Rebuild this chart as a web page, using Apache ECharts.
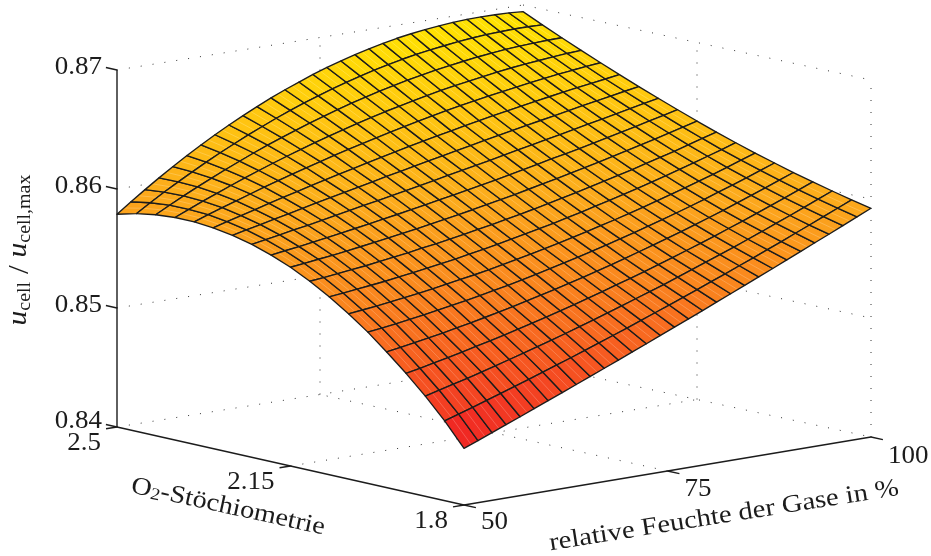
<!DOCTYPE html>
<html><head><meta charset="utf-8">
<style>html,body{margin:0;padding:0;background:#fff}#c{width:931px;height:556px}</style>
<script src="https://cdn.jsdelivr.net/npm/echarts@6/dist/echarts.min.js"></script>
</head><body><div id="c"></div>
<script>
// tick labels
const zTicks = [0.84, 0.85, 0.86, 0.87];
const zTickLabels = ['0.84', '0.85', '0.86', '0.87'];
const oxygenTicks = [2.5, 2.15, 1.8];
const oxygenTickLabels = ['2.5', '2.15', '1.8'];
const humidityTicks = [50, 75, 100];
const humidityTickLabels = ['50', '75', '100'];

// sampling of the surface
const oxygenGrid = [1.8,1.839,1.878,1.917,1.956,1.994,2.033,2.072,2.111,2.15,2.189,2.228,2.267,2.306,2.344,2.383,2.422,2.461,2.5];
const humidityGrid = [50,51.72,53.45,55.17,56.9,58.62,60.34,62.07,63.79,65.52,67.24,68.97,70.69,72.41,74.14,75.86,77.59,79.31,81.03,82.76,84.48,86.21,87.93,89.66,91.38,93.1,94.83,96.55,98.28,100];

// u_cell / u_cell,max, one row per O2 value
const row00 = [0.84476,0.84522,0.84569,0.84616,0.84663,0.84711,0.84759,0.84807,0.84855,0.84903,0.84952,0.85001,0.85050,0.85099,0.85149,0.85199,0.85249,0.85299,0.85350,0.85401,0.85452,0.85503,0.85554,0.85606,0.85658,0.85711,0.85763,0.85816,0.85869,0.85922];
const row01 = [0.84670,0.84707,0.84745,0.84783,0.84822,0.84862,0.84902,0.84942,0.84983,0.85024,0.85066,0.85109,0.85152,0.85195,0.85240,0.85284,0.85329,0.85374,0.85420,0.85467,0.85513,0.85561,0.85608,0.85657,0.85705,0.85756,0.85805,0.85856,0.85907,0.85958];
const row02 = [0.84842,0.84872,0.84903,0.84933,0.84966,0.84999,0.85032,0.85066,0.85101,0.85136,0.85172,0.85210,0.85247,0.85286,0.85326,0.85366,0.85406,0.85446,0.85489,0.85532,0.85576,0.85619,0.85663,0.85709,0.85755,0.85803,0.85850,0.85899,0.85948,0.85997];
const row03 = [0.84997,0.85020,0.85045,0.85070,0.85097,0.85125,0.85153,0.85182,0.85211,0.85242,0.85274,0.85307,0.85339,0.85374,0.85409,0.85446,0.85482,0.85519,0.85558,0.85598,0.85638,0.85678,0.85720,0.85764,0.85807,0.85852,0.85897,0.85943,0.85991,0.86038];
const row04 = [0.85140,0.85159,0.85179,0.85200,0.85221,0.85245,0.85268,0.85293,0.85319,0.85345,0.85374,0.85403,0.85432,0.85462,0.85494,0.85526,0.85560,0.85594,0.85631,0.85667,0.85704,0.85742,0.85781,0.85821,0.85862,0.85905,0.85948,0.85992,0.86037,0.86082];
const row05 = [0.85271,0.85286,0.85302,0.85320,0.85338,0.85358,0.85379,0.85400,0.85423,0.85446,0.85470,0.85496,0.85523,0.85551,0.85580,0.85609,0.85640,0.85671,0.85704,0.85738,0.85772,0.85808,0.85844,0.85881,0.85920,0.85961,0.86000,0.86042,0.86085,0.86128];
const row06 = [0.85388,0.85401,0.85415,0.85430,0.85446,0.85464,0.85482,0.85502,0.85522,0.85542,0.85564,0.85589,0.85613,0.85637,0.85664,0.85692,0.85720,0.85749,0.85780,0.85810,0.85843,0.85876,0.85910,0.85945,0.85981,0.86018,0.86056,0.86095,0.86136,0.86176];
const row07 = [0.85495,0.85507,0.85520,0.85534,0.85548,0.85565,0.85582,0.85600,0.85619,0.85638,0.85659,0.85681,0.85703,0.85727,0.85752,0.85777,0.85803,0.85830,0.85858,0.85888,0.85918,0.85949,0.85979,0.86013,0.86047,0.86081,0.86117,0.86153,0.86190,0.86228];
const row08 = [0.85589,0.85601,0.85614,0.85628,0.85642,0.85659,0.85676,0.85693,0.85712,0.85730,0.85750,0.85771,0.85793,0.85814,0.85838,0.85862,0.85887,0.85913,0.85939,0.85967,0.85995,0.86024,0.86053,0.86083,0.86115,0.86147,0.86179,0.86213,0.86248,0.86282];
const row09 = [0.85670,0.85683,0.85699,0.85713,0.85729,0.85746,0.85764,0.85782,0.85800,0.85819,0.85839,0.85860,0.85882,0.85903,0.85926,0.85950,0.85973,0.85998,0.86023,0.86049,0.86076,0.86102,0.86130,0.86158,0.86187,0.86217,0.86246,0.86278,0.86308,0.86340];
const row10 = [0.85736,0.85753,0.85769,0.85787,0.85805,0.85825,0.85844,0.85864,0.85884,0.85904,0.85925,0.85946,0.85969,0.85990,0.86013,0.86036,0.86059,0.86084,0.86108,0.86133,0.86159,0.86183,0.86208,0.86235,0.86262,0.86289,0.86316,0.86344,0.86372,0.86400];
const row11 = [0.85789,0.85810,0.85831,0.85853,0.85873,0.85896,0.85918,0.85940,0.85963,0.85984,0.86008,0.86030,0.86053,0.86076,0.86100,0.86124,0.86147,0.86170,0.86194,0.86219,0.86242,0.86266,0.86289,0.86314,0.86339,0.86363,0.86388,0.86412,0.86437,0.86461];
const row12 = [0.85829,0.85855,0.85881,0.85908,0.85933,0.85960,0.85986,0.86012,0.86037,0.86061,0.86087,0.86113,0.86137,0.86161,0.86186,0.86210,0.86234,0.86258,0.86282,0.86305,0.86328,0.86351,0.86373,0.86395,0.86418,0.86440,0.86461,0.86482,0.86504,0.86524];
const row13 = [0.85855,0.85888,0.85920,0.85952,0.85985,0.86016,0.86046,0.86077,0.86106,0.86134,0.86163,0.86191,0.86219,0.86245,0.86272,0.86298,0.86322,0.86346,0.86370,0.86393,0.86416,0.86438,0.86458,0.86479,0.86499,0.86519,0.86537,0.86555,0.86572,0.86589];
const row14 = [0.85870,0.85911,0.85951,0.85990,0.86028,0.86066,0.86103,0.86138,0.86172,0.86205,0.86238,0.86270,0.86300,0.86329,0.86358,0.86385,0.86411,0.86437,0.86462,0.86485,0.86506,0.86527,0.86546,0.86565,0.86583,0.86600,0.86616,0.86630,0.86643,0.86655];
const row15 = [0.85870,0.85920,0.85969,0.86016,0.86063,0.86108,0.86151,0.86193,0.86233,0.86271,0.86309,0.86345,0.86379,0.86412,0.86444,0.86474,0.86501,0.86527,0.86553,0.86577,0.86599,0.86618,0.86637,0.86655,0.86671,0.86685,0.86696,0.86708,0.86717,0.86724];
const row16 = [0.85857,0.85918,0.85977,0.86034,0.86089,0.86142,0.86193,0.86243,0.86290,0.86334,0.86377,0.86419,0.86457,0.86494,0.86529,0.86562,0.86592,0.86620,0.86647,0.86671,0.86694,0.86713,0.86730,0.86747,0.86760,0.86773,0.86781,0.86788,0.86793,0.86795];
const row17 = [0.85829,0.85902,0.85973,0.86040,0.86105,0.86168,0.86228,0.86285,0.86340,0.86392,0.86442,0.86489,0.86533,0.86574,0.86614,0.86650,0.86683,0.86714,0.86742,0.86768,0.86790,0.86809,0.86825,0.86841,0.86852,0.86862,0.86867,0.86871,0.86871,0.86868];
const row18 = [0.85788,0.85874,0.85957,0.86037,0.86113,0.86187,0.86257,0.86324,0.86387,0.86447,0.86504,0.86558,0.86608,0.86654,0.86699,0.86739,0.86775,0.86809,0.86839,0.86866,0.86890,0.86909,0.86925,0.86938,0.86948,0.86955,0.86957,0.86956,0.86952,0.86944];
const surfaceRows = [row00,row01,row02,row03,row04,row05,row06,row07,row08,row09,row10,row11,row12,row13,row14,row15,row16,row17,row18];

// ---- oblique view: pixel layout of the box ----
const W = 931, H = 556;
const floorFront = [464,505], floorLeft = [117,427], floorRight = [871,437], floorBack = [523,362];
const pxPerUnit = 11900;
const zMin = 0.84, zMax = 0.87, oMin = 1.8, oMax = 2.5, hMin = 50, hMax = 100;
function project(o, h, z) {
  const s = (o - oMin) / (oMax - oMin), t = (h - hMin) / (hMax - hMin);
  const mix = k => (1-s)*(1-t)*floorFront[k] + s*(1-t)*floorLeft[k] + (1-s)*t*floorRight[k] + s*t*floorBack[k];
  return [mix(0), mix(1) - (z - zMin) * pxPerUnit];
}

const INK = '#1c1c1c';
const SERIF = '"Liberation Serif", serif';

// dotted box grid
const dotted = [];
[zMin, 0.85, 0.86, zMax].forEach(z => {
  dotted.push([oMax,hMin,z, oMax,hMax,z]);
  dotted.push([oMax,hMax,z, oMin,hMax,z]);
});
dotted.push([2.15,hMin,zMin, 2.15,hMax,zMin]);
dotted.push([oMin,75,zMin, oMax,75,zMin]);
dotted.push([oMax,75,zMin, oMax,75,zMax]);
dotted.push([oMax,hMax,zMin, oMax,hMax,zMax]);
dotted.push([2.15,hMax,zMin, 2.15,hMax,zMax]);
dotted.push([oMin,hMax,zMin, oMin,hMax,zMax]);

// solid axes and ticks
const solid = [
  [oMax,hMin,zMin, oMax,hMin,zMax],
  [oMax,hMin,zMin, oMin,hMin,zMin],
  [oMin,hMin,zMin, oMin,hMax,zMin]
];
zTicks.forEach(z => solid.push([oMax,hMin,z, oMax+0.0224,hMin,z]));
oxygenTicks.forEach(o => solid.push([o,hMin,zMin, o,hMin-1.35,zMin]));
humidityTicks.forEach(h => solid.push([oMin,h,zMin, oMin-0.024,h,zMin]));

// surface cells, back to front
const cells = [];
for (let j = surfaceRows.length - 2; j >= 0; j--) {
  for (let i = 0; i < humidityGrid.length - 1; i++) {
    const mean = (surfaceRows[j][i] + surfaceRows[j][i+1] + surfaceRows[j+1][i] + surfaceRows[j+1][i+1]) / 4;
    cells.push([j, i, mean]);
  }
}

function segmentRenderer(style) {
  return function (params, api) {
    const a = project(api.value(0), api.value(1), api.value(2));
    const b = project(api.value(3), api.value(4), api.value(5));
    const p = api.coord(a), q = api.coord(b);
    return { type:'line', silent:true, shape:{x1:p[0],y1:p[1],x2:q[0],y2:q[1]}, style };
  };
}

function renderCell(params, api) {
  const j = api.value(0), i = api.value(1);
  const pt = (jj, ii) => api.coord(project(oxygenGrid[jj], humidityGrid[ii], surfaceRows[jj][ii]));
  const a = pt(j,i), b = pt(j,i+1), c = pt(j+1,i+1), d = pt(j+1,i);
  const m1 = [(a[0]+b[0])/2,(a[1]+b[1])/2], m2 = [(d[0]+c[0])/2,(d[1]+c[1])/2];
  return { type:'group', silent:true, children:[
    { type:'polygon', shape:{points:[a,b,c,d]}, style:{fill:api.visual('color'), stroke:null} },
    { type:'line', shape:{x1:m1[0],y1:m1[1],x2:m2[0],y2:m2[1]}, style:{stroke:'rgba(255,255,255,0.3)', lineWidth:0.7} },
    { type:'polygon', shape:{points:[a,b,c,d]}, style:{fill:null, stroke:INK, lineWidth:1.35, lineJoin:'round'} }
  ]};
}

// tick labels: [text, anchor o, h, z, dx, dy, align]
const tickLabelRows = [];
zTicks.forEach((z,k) => tickLabelRows.push([zTickLabels[k], oMax, hMin, z, -15, k===0?-6:-3, 'right']));
oxygenTicks.forEach((o,k) => tickLabelRows.push([oxygenTickLabels[k], o, hMin, zMin, -16, 16, 'right']));
humidityTicks.forEach((h,k) => tickLabelRows.push([humidityTickLabels[k], oMin, h, zMin, 17, 17+k, 'left']));

function renderTickLabel(params, api) {
  const r = tickLabelRows[api.value(0)];
  const p = api.coord(project(r[1], r[2], r[3]));
  return { type:'text', silent:true, x:p[0]+r[4], y:p[1]+r[5], scaleX:1.08,
    style:{ text:r[0], fontFamily:SERIF, fontSize:25, fill:INK, align:r[6], verticalAlign:'middle' } };
}

const axisTitles = [
  { text:'{m|u}{s|cell}{n| / }{m|u}{s|cell,max}', x:20, y:250, rotation:Math.PI/2, scaleX:1.05 },
  { text:'O{b|2}-Stöchiometrie', x:228, y:507, rotation:-12.3*Math.PI/180, scaleX:1.13 },
  { text:'relative Feuchte der Gase in %', x:724, y:516, rotation:9*Math.PI/180, scaleX:1.15 }
];
const titleRich = {
  m:{fontFamily:SERIF, fontSize:28, fontStyle:'italic', fill:INK, lineHeight:26, verticalAlign:'top'},
  n:{fontFamily:SERIF, fontSize:30, fill:INK, lineHeight:30, verticalAlign:'top'},
  s:{fontFamily:SERIF, fontSize:19, fill:INK, lineHeight:17, padding:[14,0,0,0], verticalAlign:'bottom'},
  b:{fontFamily:SERIF, fontSize:17, fill:INK, lineHeight:17, padding:[12,0,0,0], verticalAlign:'bottom'}
};
function renderTitle(params, api) {
  const t = axisTitles[api.value(0)];
  return { type:'text', silent:true, x:t.x, y:t.y, rotation:t.rotation, scaleX:t.scaleX,
    style:{ text:t.text, rich:titleRich, fontFamily:SERIF, fontSize:25, fill:INK, align:'center', verticalAlign:'middle' } };
}

const chart = echarts.init(document.getElementById('c'), null, {renderer:'canvas'});
chart.setOption({
  animation:false,
  backgroundColor:'#fff',
  grid:{left:0,right:0,top:0,bottom:0},
  xAxis:{type:'value',min:0,max:W,show:false},
  yAxis:{type:'value',min:0,max:H,inverse:true,show:false},
  visualMap:{show:false, seriesIndex:1, dimension:2, min:0.8448, max:0.8696,
    inRange:{color:['#EE1C24','#F65521','#FA871E','#FCAC1C','#FFC80F','#FFE400']}},
  series:[
    {type:'custom',coordinateSystem:'cartesian2d',clip:false,silent:true,progressive:0,data:dotted,
      renderItem:segmentRenderer({stroke:'#333',lineWidth:1,lineDash:[1,11]})},
    {type:'custom',coordinateSystem:'cartesian2d',clip:false,silent:true,progressive:0,data:cells,renderItem:renderCell},
    {type:'custom',coordinateSystem:'cartesian2d',clip:false,silent:true,progressive:0,data:solid,
      renderItem:segmentRenderer({stroke:INK,lineWidth:1.4})},
    {type:'custom',coordinateSystem:'cartesian2d',clip:false,silent:true,data:tickLabelRows.map((r,k)=>[k]),renderItem:renderTickLabel},
    {type:'custom',coordinateSystem:'cartesian2d',clip:false,silent:true,data:axisTitles.map((r,k)=>[k]),renderItem:renderTitle}
  ]
});
</script></body></html>
